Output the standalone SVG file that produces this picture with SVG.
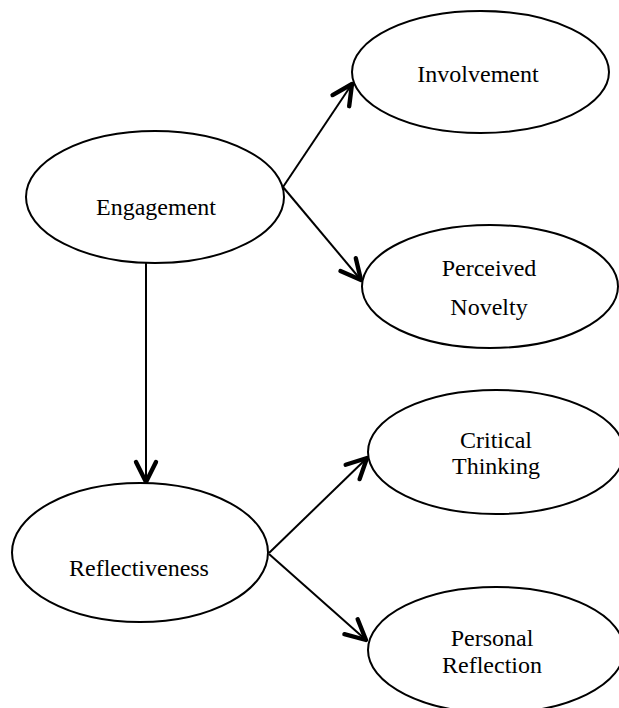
<svg xmlns="http://www.w3.org/2000/svg" width="619" height="708" viewBox="0 0 619 708">
<style>
.node ellipse{fill:#fff;stroke:#000;stroke-width:2}
.node text{font-family:"Liberation Serif","Times New Roman",serif;font-size:24px;fill:#000;text-anchor:middle}
.edge{stroke:#000;stroke-width:2;fill:none;marker-end:url(#arr)}
</style>
<defs>
<marker id="arr" markerUnits="userSpaceOnUse" markerWidth="30" markerHeight="30" viewBox="-20 -12 24 24" refX="0" refY="0" orient="auto">
<path d="M-16,-8 L0,0 L-16,8" fill="none" stroke="#000" stroke-width="3.5" stroke-linecap="round" stroke-linejoin="round"/>
</marker>
</defs>
<rect width="619" height="708" fill="#fff"/>
<g id="connectors">
<line class="edge" x1="283" y1="187" x2="352" y2="84"/>
<line class="edge" x1="283" y1="187" x2="361" y2="280"/>
<line class="edge" x1="146" y1="263" x2="146" y2="482"/>
<line class="edge" x1="269" y1="553" x2="367" y2="458"/>
<line class="edge" x1="269" y1="554" x2="366" y2="640"/>
</g>
<g id="engagement" class="node">
<ellipse cx="155" cy="197" rx="129" ry="66"/>
<text x="156" y="215">Engagement</text>
</g>
<g id="involvement" class="node">
<ellipse cx="480.5" cy="72" rx="128.5" ry="61"/>
<text x="478" y="82">Involvement</text>
</g>
<g id="perceived-novelty" class="node">
<ellipse cx="490" cy="286.5" rx="128" ry="61.5"/>
<text x="489" y="276">Perceived</text>
<text x="489" y="315">Novelty</text>
</g>
<g id="critical-thinking" class="node">
<ellipse cx="496" cy="452" rx="128" ry="62"/>
<text x="496" y="448">Critical</text>
<text x="496" y="474">Thinking</text>
</g>
<g id="reflectiveness" class="node">
<ellipse cx="140" cy="552.5" rx="128" ry="69.5"/>
<text x="139" y="576">Reflectiveness</text>
</g>
<g id="personal-reflection" class="node">
<ellipse cx="496" cy="650" rx="128" ry="63"/>
<text x="492" y="646">Personal</text>
<text x="492" y="673">Reflection</text>
</g>
</svg>
